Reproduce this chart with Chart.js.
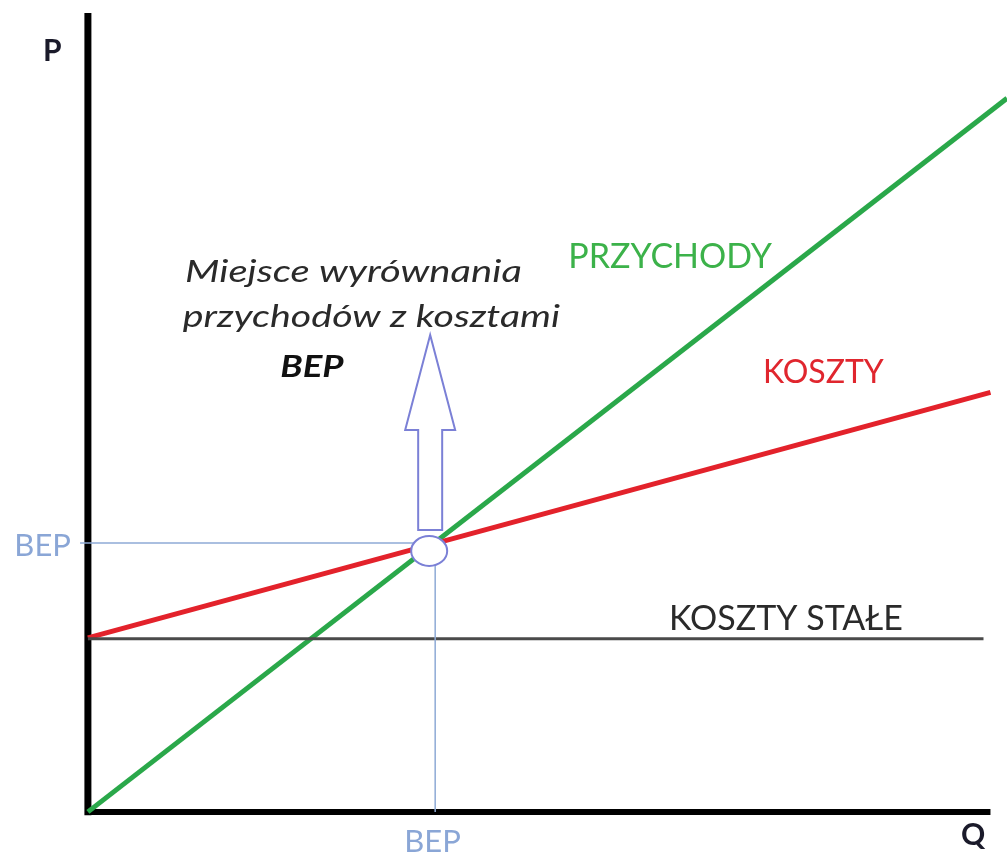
<!DOCTYPE html>
<html>
<head>
<meta charset="utf-8">
<script src="https://cdn.jsdelivr.net/npm/chart.js@4/dist/chart.umd.min.js"></script>
<style>
  body { margin: 0; background: #fff; }
  #wrap { width: 1007px; height: 858px; }
</style>
</head>
<body>
<div id="wrap"><canvas id="bepChart" width="1007" height="858"></canvas></div>
<script>
// values (Q along x, P along y)
const revenueQ = [0, 10.56];
const revenueP = [0, 8.2];
const costQ = [0, 10.37];
const costP = [2.0, 4.82];
const fixedQ = [0, 10.29];
const fixedP = [1.99, 1.99];
const bepQ = 3.99;
const bepP = 3.09;
const axisQmax = 10.37;
const axisPmax = 9.18;

const pts = (xs, ys) => xs.map((x, i) => ({ x: x, y: ys[i] }));

// annotation texts, anchored at their baseline (sx = horizontal stretch)
const labels = [
  { text: 'P', q: -0.41, p: 8.63, font: 'bold 30px Lato', color: '#1a1a2a', align: 'center', sx: 1 },
  { text: 'Q', q: 10.17, p: -0.38, font: 'bold 30px Lato', color: '#1a1a2a', align: 'center', sx: 1 },
  { text: 'BEP', q: -0.52, p: 2.94, font: '31px Lato', color: '#8aa6d6', align: 'center', sx: 1 },
  { text: 'BEP', q: bepQ - 0.03, p: -0.46, font: '31px Lato', color: '#8aa6d6', align: 'center', sx: 1 },
  { text: 'PRZYCHODY', q: 6.69, p: 6.25, font: '34px Lato', color: '#3cb24a', align: 'center', sx: 1 },
  { text: 'KOSZTY', q: 8.45, p: 4.93, font: '32px Lato', color: '#e0262e', align: 'center', sx: 1 },
  { text: 'KOSZTY STAŁE', q: 8.02, p: 2.09, font: '34px Lato', color: '#2a2a2a', align: 'center', sx: 1 },
  { text: 'Miejsce wyrównania', q: 1.115, p: 6.09, font: 'italic 31px Lato', color: '#2a2a2a', align: 'left', sx: 1.29 },
  { text: 'przychodów z kosztami', q: 1.09, p: 5.575, font: 'italic 31px Lato', color: '#2a2a2a', align: 'left', sx: 1.27 },
  { text: 'BEP', q: 2.21, p: 5.0, font: 'bold italic 31px Lato', color: '#111111', align: 'left', sx: 1.18 }
];

const markerPlugin = {
  id: 'bepMarker',
  afterDatasetsDraw(chart) {
    const ctx = chart.ctx;
    const xs = chart.scales.x, ys = chart.scales.y;
    const bx = xs.getPixelForValue(bepQ), by = ys.getPixelForValue(bepP);
    ctx.save();
    // ellipse round the crossing
    ctx.beginPath();
    ctx.ellipse(bx - 6, by + 8, 18, 15, 0, 0, Math.PI * 2);
    ctx.fillStyle = '#ffffff';
    ctx.fill();
    ctx.lineWidth = 2;
    ctx.strokeStyle = '#7b80d6';
    ctx.stroke();
    // hollow block arrow pointing up
    const cx = bx - 5;
    ctx.beginPath();
    ctx.moveTo(cx - 12, by - 13);
    ctx.lineTo(cx + 12, by - 13);
    ctx.lineTo(cx + 12, by - 113);
    ctx.lineTo(cx + 25, by - 113);
    ctx.lineTo(cx, by - 208);
    ctx.lineTo(cx - 25, by - 113);
    ctx.lineTo(cx - 12, by - 113);
    ctx.closePath();
    ctx.fillStyle = '#ffffff';
    ctx.fill();
    ctx.lineWidth = 2;
    ctx.strokeStyle = '#7b80d6';
    ctx.stroke();
    // texts
    ctx.textBaseline = 'alphabetic';
    labels.forEach(l => {
      ctx.save();
      ctx.translate(xs.getPixelForValue(l.q), ys.getPixelForValue(l.p));
      ctx.scale(l.sx, 1);
      ctx.font = l.font;
      ctx.fillStyle = l.color;
      ctx.textAlign = l.align;
      ctx.fillText(l.text, 0, 0);
      ctx.restore();
    });
    ctx.restore();
  }
};

const line = (data, color, width) => ({
  data: data, borderColor: color, borderWidth: width,
  pointRadius: 0, fill: false, tension: 0
});

new Chart(document.getElementById('bepChart'), {
  type: 'line',
  data: {
    datasets: [
      line(pts([-0.09, bepQ], [bepP, bepP]), '#8eaad6', 1.5),
      line(pts([bepQ, bepQ], [bepP, 0]), '#8eaad6', 1.5),
      line(pts(fixedQ, fixedP), '#4a4a4a', 3),
      line(pts(costQ, costP), '#e3222b', 5),
      line(pts(revenueQ, revenueP), '#2aa84a', 5),
      line(pts([0, 0], [-0.04, axisPmax]), '#000000', 7),
      line(pts([0, axisQmax], [0, 0]), '#000000', 6)
    ]
  },
  options: {
    responsive: false,
    animation: false,
    layout: { padding: 0 },
    plugins: { legend: { display: false }, tooltip: { enabled: false } },
    scales: {
      x: { type: 'linear', min: -1.01, max: 10.56, display: false },
      y: { type: 'linear', min: -0.53, max: 9.33, display: false }
    }
  },
  plugins: [markerPlugin]
});
</script>
</body>
</html>
